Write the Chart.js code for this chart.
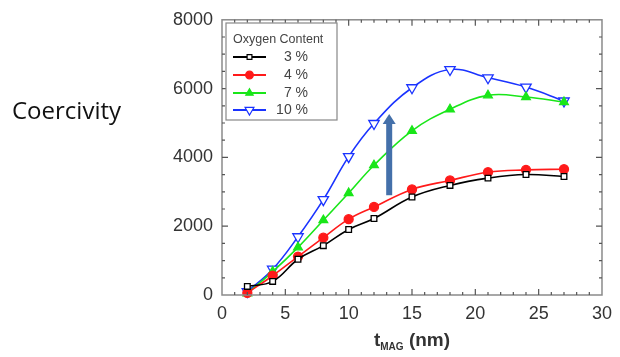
<!DOCTYPE html>
<html>
<head>
<meta charset="utf-8">
<script src="https://cdn.jsdelivr.net/npm/chart.js@4/dist/chart.umd.min.js"></script>
<style>
html,body{margin:0;padding:0;background:#fff;}
#wrap{width:620px;height:357px;position:relative;}
</style>
</head>
<body>
<div id="wrap"><canvas id="c" width="620" height="357"></canvas></div>
<script>
const thickness = [2, 4, 6, 8, 10, 12, 15, 18, 21, 24, 27];
const seriesLabels = ['3 %', '4 %', '7 %', '10 %'];
const ox3 = [250, 395, 1040, 1434, 1905, 2223, 2849, 3186, 3397, 3503, 3445];
const ox4 = [60, 560, 1116, 1665, 2204, 2560, 3070, 3330, 3570, 3638, 3657];
const ox7 = [50, 680, 1386, 2175, 2964, 3773, 4774, 5400, 5804, 5756, 5611];
const ox10 = [100, 750, 1694, 2772, 4023, 4986, 6025, 6554, 6314, 6044, 5640];
const xTicks = [0, 5, 10, 15, 20, 25, 30];
const yTicks = [0, 2000, 4000, 6000, 8000];
const arrowX = 13.2, arrowFrom = 2900, arrowTo = 5260;

const styles = [
  {color:'#000000', point:'rect', fill:'#ffffff', r:4, rot:0},
  {color:'#ff1a1a', point:'circle', fill:'#ff1a1a', r:4.5, rot:0},
  {color:'#19e619', point:'triangle', fill:'#19e619', r:5, rot:0},
  {color:'#1a33ff', point:'triangle', fill:'#ffffff', r:6, rot:180}
];
const allSeries = [ox3, ox4, ox7, ox10];

const datasets = allSeries.map((s, i) => ({
  label: seriesLabels[i],
  data: thickness.map((x, j) => ({x: x, y: s[j]})),
  borderColor: styles[i].color,
  backgroundColor: styles[i].fill,
  pointBorderColor: styles[i].color,
  pointBackgroundColor: styles[i].fill,
  pointStyle: styles[i].point,
  pointRadius: styles[i].r,
  pointRotation: styles[i].rot,
  pointBorderWidth: 1.3,
  borderWidth: 1.6,
  tension: 0.4,
  clip: false
}));

const FONT = '"Liberation Sans", Arial, sans-serif';

const deco = {
  id: 'deco',
  beforeDraw(chart) {
    const ctx = chart.ctx;
    ctx.save();
    ctx.fillStyle = '#fff';
    ctx.fillRect(0, 0, chart.width, chart.height);
    ctx.fillStyle = '#111';
    ctx.font = '500 24px "Open Sans", sans-serif';
    ctx.textBaseline = 'middle';
    ctx.textAlign = 'left';
    ctx.fillText('Coercivity', 12, 112);
    ctx.restore();
  },
  afterDraw(chart) {
    const ctx = chart.ctx;
    const a = chart.chartArea;
    const xs = chart.scales.x, ys = chart.scales.y;
    ctx.save();
    // frame
    ctx.strokeStyle = '#8a8a8a';
    ctx.lineWidth = 1.5;
    ctx.strokeRect(a.left, a.top, a.right - a.left, a.bottom - a.top);
    // ticks
    ctx.strokeStyle = '#555';
    ctx.lineWidth = 1.2;
    ctx.beginPath();
    for (let v = 1; v < 30; v++) {
      const p = xs.getPixelForValue(v);
      const len = v % 5 === 0 ? 6 : 3;
      ctx.moveTo(p, a.bottom); ctx.lineTo(p, a.bottom - len);
      ctx.moveTo(p, a.top); ctx.lineTo(p, a.top + len);
    }
    for (let v = 500; v < 8000; v += 500) {
      const p = ys.getPixelForValue(v);
      const len = v % 2000 === 0 ? 6 : 3;
      ctx.moveTo(a.left, p); ctx.lineTo(a.left + len, p);
      ctx.moveTo(a.right, p); ctx.lineTo(a.right - len, p);
    }
    ctx.stroke();

    // arrow
    const ax = xs.getPixelForValue(arrowX);
    const y0 = ys.getPixelForValue(arrowFrom);
    const y1 = ys.getPixelForValue(arrowTo);
    ctx.fillStyle = '#4470aa';
    ctx.fillRect(ax - 3, y1 + 9, 6, y0 - y1 - 9);
    ctx.beginPath();
    ctx.moveTo(ax - 6.5, y1 + 10);
    ctx.lineTo(ax, y1);
    ctx.lineTo(ax + 6.5, y1 + 10);
    ctx.closePath();
    ctx.fill();

    // legend
    const lx = 226, ly = 23, lw = 111, lh = 97;
    ctx.fillStyle = '#fff';
    ctx.fillRect(lx, ly, lw, lh);
    ctx.strokeStyle = '#888';
    ctx.lineWidth = 1.2;
    ctx.strokeRect(lx, ly, lw, lh);
    ctx.fillStyle = '#444';
    ctx.font = '12.5px ' + FONT;
    ctx.textBaseline = 'middle';
    ctx.textAlign = 'left';
    ctx.fillText('Oxygen Content', 233, 40);
    const rows = [57, 75, 93, 110];
    datasets.forEach((d, i) => {
      const yy = rows[i];
      const st = styles[i];
      ctx.strokeStyle = d.borderColor;
      ctx.lineWidth = 2;
      ctx.beginPath();
      ctx.moveTo(233, yy); ctx.lineTo(266, yy);
      ctx.stroke();
      ctx.fillStyle = st.fill; ctx.strokeStyle = st.color; ctx.lineWidth = 1.2;
      Chart.helpers.drawPoint(ctx, {
        pointStyle: st.point, radius: st.r * 0.85, rotation: st.rot, borderWidth: 1.2
      }, 249.5, yy);
      ctx.fillStyle = '#444';
      ctx.font = '14px ' + FONT;
      ctx.textAlign = 'right';
      ctx.textBaseline = 'middle';
      ctx.fillText(d.label, 308, yy);
    });

    // x title with subscript
    ctx.fillStyle = '#333';
    ctx.textBaseline = 'alphabetic';
    ctx.textAlign = 'left';
    const cx = (a.left + a.right) / 2;
    ctx.font = 'bold 19px ' + FONT;
    const wT = ctx.measureText('t').width;
    ctx.font = 'bold 10px ' + FONT;
    const wS = ctx.measureText('MAG').width;
    ctx.font = 'bold 19px ' + FONT;
    const wN = ctx.measureText(' (nm)').width;
    let sx = cx - (wT + wS + wN) / 2;
    const by = 346;
    ctx.fillText('t', sx, by);
    ctx.font = 'bold 10px ' + FONT;
    ctx.fillText('MAG', sx + wT, by + 4);
    ctx.font = 'bold 19px ' + FONT;
    ctx.fillText(' (nm)', sx + wT + wS, by);
    ctx.restore();
  }
};

new Chart(document.getElementById('c'), {
  type: 'line',
  data: { datasets: datasets },
  options: {
    responsive: false,
    animation: false,
    devicePixelRatio: 1,
    layout: { padding: { left: 0, top: 18, right: 11, bottom: 0 } },
    plugins: { legend: { display: false }, tooltip: { enabled: false } },
    scales: {
      x: {
        type: 'linear', min: 0, max: 30,
        afterFit(s) { s.height = 62; },
        afterBuildTicks(s) { s.ticks = xTicks.map(v => ({value: v})); },
        grid: { display: false, drawTicks: false },
        border: { display: false },
        ticks: { color: '#333', padding: 8, font: { family: FONT, size: 18 }, maxRotation: 0,
                 callback: v => String(v) }
      },
      y: {
        min: 0, max: 8000,
        afterFit(s) { s.width = 222; },
        afterBuildTicks(s) { s.ticks = yTicks.map(v => ({value: v})); },
        grid: { display: false, drawTicks: false },
        border: { display: false },
        ticks: { color: '#333', padding: 9, font: { family: FONT, size: 18 },
                 callback: v => String(v) }
      }
    }
  },
  plugins: [deco]
});
</script>
</body>
</html>
